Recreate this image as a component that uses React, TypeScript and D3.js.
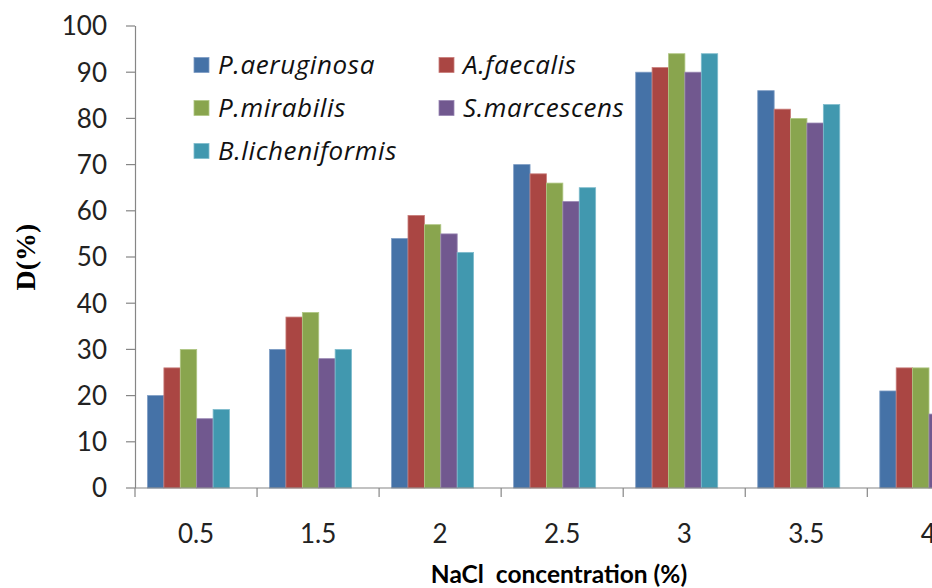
import React from "react";
import * as d3 from "d3";

const categories = ["0.5", "1.5", "2", "2.5", "3", "3.5", "4"];
const seriesNames = ["P.aeruginosa", "A.faecalis", "P.mirabilis", "S.marcescens", "B.licheniformis"];
const pAeruginosa = [20, 30, 54, 70, 90, 86, 21];
const aFaecalis = [26, 37, 59, 68, 91, 82, 26];
const pMirabilis = [30, 38, 57, 66, 94, 80, 26];
const sMarcescens = [15, 28, 55, 62, 90, 79, 16];
const bLicheniformis = [17, 30, 51, 65, 94, 83, 18];
const yTicks = [0, 10, 20, 30, 40, 50, 60, 70, 80, 90, 100];
const colors = ["#4572A7", "#AA4643", "#89A54E", "#71588F", "#4198AF"];
const strokes = ["#7d9cc4", "#c97d7a", "#b0c784", "#9a87b3", "#7fbccd"];

const seriesValues = [pAeruginosa, aFaecalis, pMirabilis, sMarcescens, bLicheniformis];

export default function App() {
  const W = 932, H = 588;
  const x0 = 135;
  const step = 122.05;
  const y = d3.scaleLinear().domain([0, 100]).range([488, 26]);
  const x = d3.scaleBand<string>().domain(categories).range([x0, x0 + step * categories.length]).padding(0);
  // six slots (Excel left an empty sixth slot)
  const slots = d3.range(6).map(String);
  const inner = d3.scaleBand<string>().domain(slots).range([12.5, 12.5 + 6 * 16.4]).padding(0);
  const axisColor = "#868686";
  const font = "Lato, 'Open Sans', sans-serif";

  const legendItems = [
    { i: 0, x: 194, y: 65 },
    { i: 1, x: 439, y: 65 },
    { i: 2, x: 194, y: 108 },
    { i: 3, x: 439, y: 108 },
    { i: 4, x: 194, y: 151 },
  ];

  return (
    <svg width={W} height={H} style={{ position: "absolute", left: 0, top: 0, background: "#fff" }}>
      <defs>
        <clipPath id="clip">
          <rect x={0} y={0} width={W} height={H} />
        </clipPath>
      </defs>
      <g clipPath="url(#clip)">
        {seriesValues.map((vals, si) =>
          vals.map((v, ci) => (
            <rect
              key={`${si}-${ci}`}
              x={(x(categories[ci]) as number) + (inner(String(si)) as number)}
              y={y(v)}
              width={inner.bandwidth()}
              height={y(0) - y(v)}
              fill={colors[si]}
              stroke={strokes[si]}
              strokeWidth={0.8}
            />
          ))
        )}
        {/* y axis */}
        <line x1={x0 + 0.5} x2={x0 + 0.5} y1={y(100)} y2={y(0)} stroke={axisColor} strokeWidth={1.2} />
        {yTicks.map((t) => (
          <g key={t}>
            <line x1={x0 - 9} x2={x0} y1={y(t)} y2={y(t)} stroke={axisColor} strokeWidth={1.2} />
            <text x={107} y={y(t)} dy="0.36em" textAnchor="end" fontFamily={font} fontSize={26} fill="#222">
              {t}
            </text>
          </g>
        ))}
        {/* x axis */}
        <line x1={x0} x2={W} y1={y(0)} y2={y(0)} stroke={axisColor} strokeWidth={1.2} />
        {categories.map((c) => (
          <g key={c}>
            <line x1={x(c) as number} x2={x(c) as number} y1={y(0)} y2={y(0) + 9} stroke={axisColor} strokeWidth={1.2} />
            <text x={(x(c) as number) + x.bandwidth() / 2} y={543} textAnchor="middle" fontFamily={font} fontSize={26} fill="#222">
              {c}
            </text>
          </g>
        ))}
        {/* axis titles */}
        <text
          transform={`translate(35,257) rotate(-90)`}
          textAnchor="middle"
          fontFamily="'Liberation Serif', 'Times New Roman', serif"
          fontWeight="bold"
          fontSize={28}
          fill="#000"
        >
          D(%)
        </text>
        <text x={559} y={583} textAnchor="middle" fontFamily={font} fontWeight="bold" fontSize={24.5} fill="#000" style={{ whiteSpace: "pre" }}>
          {"NaCl  concentration (%)"}
        </text>
        {/* legend */}
        {legendItems.map((li) => (
          <g key={li.i}>
            <rect x={li.x} y={li.y - 7.5} width={15} height={15} fill={colors[li.i]} stroke={strokes[li.i]} strokeWidth={0.8} />
            <text x={li.x + 24} y={li.y} dy="0.36em" fontFamily="'Open Sans', Lato, sans-serif" fontStyle="italic" fontSize={26} letterSpacing={0.6} fill="#111">
              {seriesNames[li.i]}
            </text>
          </g>
        ))}
      </g>
    </svg>
  );
}
